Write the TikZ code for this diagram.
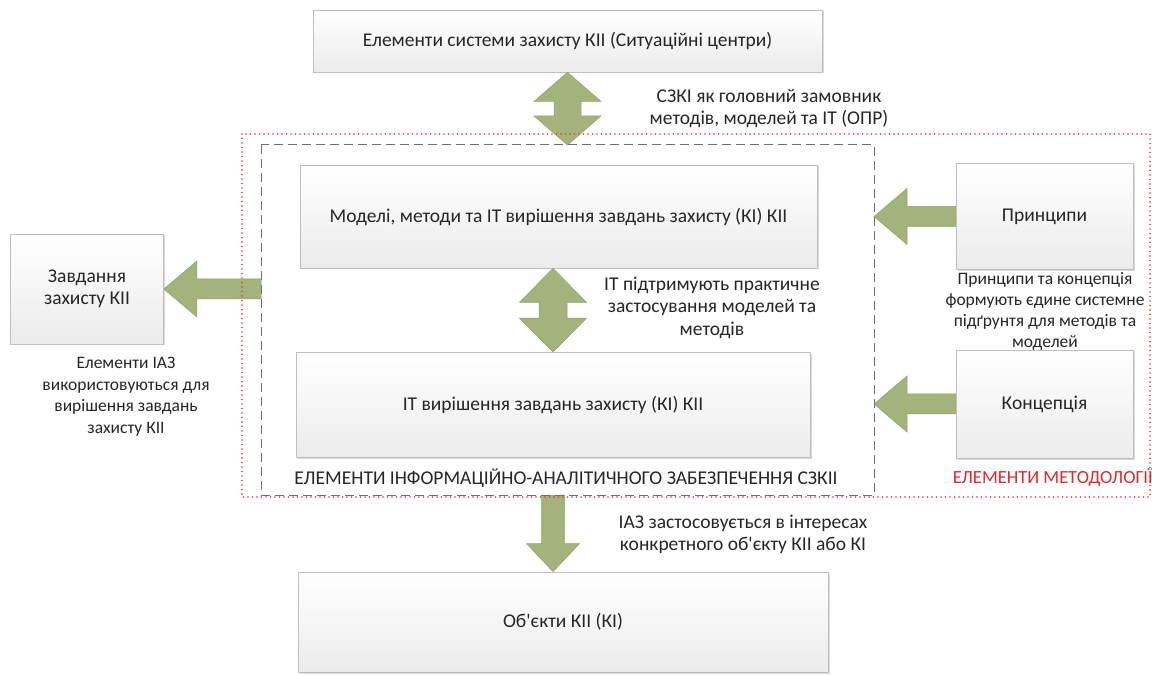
\documentclass[tikz,border=0pt]{standalone}
\usepackage{fontspec}
\setmainfont{Carlito}[Ligatures=TeXOff]
\usetikzlibrary{calc,shadows}
\definecolor{txt}{HTML}{262626}
\definecolor{boxedge}{HTML}{BFBFBF}
\definecolor{boxbot}{HTML}{EBEBEB}
\definecolor{arrfill}{HTML}{A4B37C}
\definecolor{arredge}{HTML}{91A16B}
\definecolor{metred}{HTML}{E3262E}
\definecolor{dotred}{HTML}{E03A44}
\definecolor{dashgray}{HTML}{707070}
\newcommand\boxfont{\fontsize{19.5}{22.5}\selectfont}
\newcommand\sidefont{\fontsize{17.5}{21.5}\selectfont}
% vertical double arrow: top point, bottom point, head half-width, shaft half-width, head length
\newcommand\vdarrow[5]{\filldraw[arr] let \p1=#1, \p2=#2 in
  (\x1,\y1) -- (\x1+#3,\y1-#5) -- (\x1+#4,\y1-#5) -- (\x1+#4,\y2+#5) -- (\x1+#3,\y2+#5)
  -- (\x1,\y2) -- (\x1-#3,\y2+#5) -- (\x1-#4,\y2+#5) -- (\x1-#4,\y1-#5) -- (\x1-#3,\y1-#5) -- cycle;}
% vertical single arrow pointing down: tail point, tip point
\newcommand\vsarrow[5]{\filldraw[arr] let \p1=#1, \p2=#2 in
  (\x2-#4,\y1) -- (\x2+#4,\y1) -- (\x2+#4,\y2+#5) -- (\x2+#3,\y2+#5) -- (\x2,\y2)
  -- (\x2-#3,\y2+#5) -- (\x2-#4,\y2+#5) -- cycle;}
% horizontal single arrow pointing left: tip point, tail point
\newcommand\hlarrow[5]{\filldraw[arr] let \p1=#1, \p2=#2 in
  (\x1,\y1) -- (\x1+#5,\y1+#3) -- (\x1+#5,\y1+#4) -- (\x2,\y1+#4) -- (\x2,\y1-#4)
  -- (\x1+#5,\y1-#4) -- (\x1+#5,\y1-#3) -- cycle;}
\begin{document}
\begin{tikzpicture}[x=1pt,y=-1pt,
  box/.style={draw=boxedge, line width=0.7pt, top color=white, bottom color=boxbot,
    text=txt, font=\boxfont, align=center, inner sep=2pt,
    drop shadow={shadow xshift=1.5pt, shadow yshift=-1.5pt, fill=black, opacity=0.15}},
  lab/.style={text=txt, font=\boxfont, align=center, inner sep=0pt},
  arr/.style={fill=arrfill, draw=arredge, line width=0.5pt},
  frame/.style={inner sep=0pt, outer sep=0pt},
  redframe/.style={draw=dotred, line width=1.8pt, dash pattern=on 0pt off 4.5pt, line cap=round},
  grayframe/.style={draw=dashgray, line width=1pt, dash pattern=on 9pt off 5pt}]
\useasboundingbox[fill=white] (0,0) rectangle (1152,676);
% frames (placed first, drawn later)
\path node[frame, minimum width=908pt, minimum height=363pt] (meth) at (696,315.5) {};
\path node[frame, minimum width=613pt, minimum height=350pt] (iaz) at (567.5,320) {};
% boxes
\node[box, minimum width=509pt, minimum height=62pt] (top) at (567.5,41) {Елементи системи захисту КІІ (Ситуаційні центри)};
\node[box, minimum width=517pt, minimum height=103pt] (models) at (558.5,216.5) {Моделі, методи та ІТ вирішення завдань захисту (КІ) КІІ};
\node[box, minimum width=514pt, minimum height=105pt] (it) at (553,405) {ІТ вирішення завдань захисту (КІ) КІІ};
\node[box, minimum width=153pt, minimum height=110pt] (zav) at (87,289) {Завдання\\захисту КІІ};
\node[box, minimum width=177pt, minimum height=106pt] (prin) at (1044.5,216.5) {Принципи};
\node[box, minimum width=177pt, minimum height=108pt] (konc) at (1044.5,404) {Концепція};
\node[box, minimum width=530pt, minimum height=100pt] (obj) at (563,622) {Об'єкти КІІ (КІ)};
% block arrows
\vdarrow{(top.south)}{(iaz.north)}{33.5pt}{13.5pt}{29pt}
\vdarrow{(models.south -| it.north)}{(it.north)}{33.5pt}{14pt}{34pt}
\vsarrow{(iaz.south -| it.south)}{(it.south |- obj.north)}{26.5pt}{11.5pt}{28pt}
\hlarrow{(zav.east)}{(zav.east -| iaz.west)}{28pt}{10pt}{33pt}
\hlarrow{(prin.west -| iaz.east)}{(prin.west)}{28pt}{10pt}{33pt}
\hlarrow{(konc.west -| iaz.east)}{(konc.west)}{28pt}{10pt}{33pt}
% frames drawn on top
\draw[redframe] (meth.north west) rectangle (meth.south east);
\draw[grayframe] (iaz.north west) rectangle (iaz.south east);
% labels
\node[lab] (l1) at (769,108.5) {СЗКІ як головний замовник\\методів, моделей та ІТ (ОПР)};
\node[lab] (l2) at (712,307.5) {ІТ підтримують практичне\\застосування моделей та\\методів};
\node[lab, font=\sidefont] (l3) at (126,396.5) {Елементи ІАЗ\\використовуються для\\вирішення завдань\\захисту КІІ};
\node[lab, font=\fontsize{17.5}{21}\selectfont] (l4) at (1045,311) {Принципи та концепція\\формують єдине системне\\підґрунтя для методів та\\моделей};
\node[lab] (l5) at (566,478) {ЕЛЕМЕНТИ ІНФОРМАЦІЙНО-АНАЛІТИЧНОГО ЗАБЕЗПЕЧЕННЯ СЗКІІ};
\node[lab, text=metred, font=\fontsize{18.5}{22}\selectfont, anchor=east] (l6) at (1153,478) {ЕЛЕМЕНТИ МЕТОДОЛОГІЇ};
\node[lab] (l7) at (743,534.5) {ІАЗ застосовується в інтересах\\конкретного об'єкту КІІ або КІ};
\end{tikzpicture}
\end{document}
